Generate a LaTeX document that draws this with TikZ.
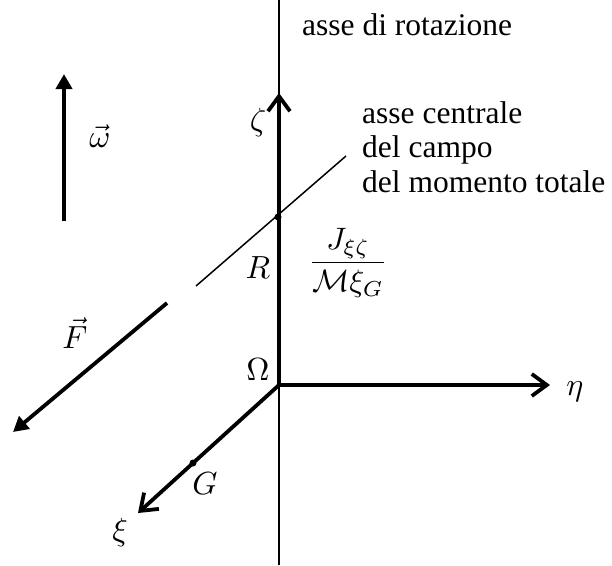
\documentclass[tikz,border=0pt]{standalone}
\usepackage{fontspec}
\setmainfont{Liberation Serif}
\usetikzlibrary{arrows.meta}
\newcommand{\mylbl}[1]{\scalebox{3.2}{#1}}
\begin{document}
\begin{tikzpicture}[x=1pt,y=-1pt,
  thinaxis/.style={line width=1.5pt},
  thickaxis/.style={line width=3.8pt},
  barb/.style={-{Straight Barb[length=15pt,width=22pt]}},
  tri/.style={-{Triangle[length=15pt,width=16pt]}},
  txt/.style={font=\fontsize{31.5}{36}\selectfont, anchor=base west, inner sep=0pt},
  lbl/.style={inner sep=0pt},
  pdot/.style={circle, fill, inner sep=0pt, minimum size=7pt}]
\useasboundingbox (0,0) rectangle (612,565);
% coordinates
\coordinate (O) at (279,385);
\coordinate (axtop) at (279,0);
\coordinate (axbot) at (279,565);
\coordinate (Ztip) at (279,93);
\coordinate (Etip) at (550,385);
\coordinate (Xtip) at (138,513);
\coordinate (cA) at (196,286);
\coordinate (cB) at (346,156);
\coordinate (Fs) at (167,303);
\coordinate (Ft) at (13,432);
\coordinate (Ws) at (64,221);
\coordinate (Wt) at (64,74);
% rotation axis
\draw[thinaxis] (axtop) -- (axbot);
% central axis
\draw[thinaxis] (cA) -- (cB);
% frame axes
\draw[thickaxis,barb] (O) -- (Ztip);
\draw[thickaxis,barb] (O) -- (Etip);
\draw[thickaxis,barb] (O) -- (Xtip);
% points
\node[pdot] (R) at (278,217) {};
\node[pdot] (G) at (193,463) {};
% vectors
\draw[thickaxis,tri] (Fs) -- (Ft);
\draw[thickaxis,tri] (Ws) -- (Wt);
% labels
\node[lbl] (lw) at (100,136) {\mylbl{$\vec{\omega}$}};
\node[lbl] (lF) at (75,333) {\mylbl{$\vec{F}$}};
\node[lbl] (lz) at (258,122) {\mylbl{$\zeta$}};
\node[lbl] (le) at (575,392) {\mylbl{$\eta$}};
\node[lbl] (lx) at (120,532) {\mylbl{$\xi$}};
\node[lbl] (lO) at (258,370) {\mylbl{$\Omega$}};
\node[lbl] (lG) at (205,484) {\mylbl{$G$}};
\node[lbl] (lR) at (258,268) {\mylbl{$R$}};
\node[lbl] (frac) at (348,263) {\scalebox{3.1}{$\displaystyle\frac{J_{\xi\zeta}}{\mathcal{M}\xi_G}$}};
% texts
\node[txt] (t1) at (302,35) {asse di rotazione};
\node[txt] (t2) at (362,123) {asse centrale};
\node[txt] (t3) at (362,157) {del campo};
\node[txt] (t4) at (362,192) {del momento totale};
\end{tikzpicture}
\end{document}
